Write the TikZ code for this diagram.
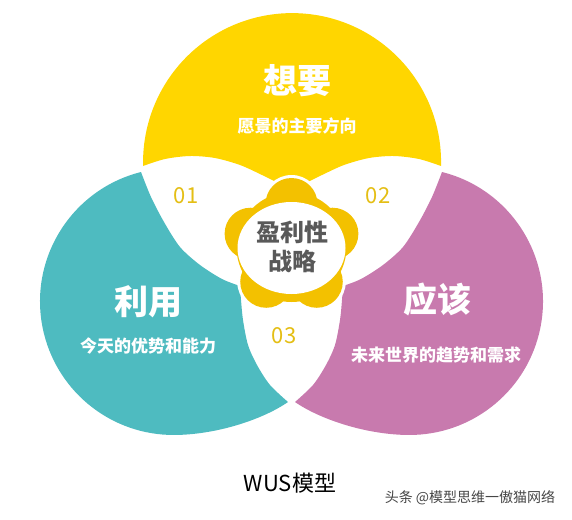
\documentclass[tikz,border=0pt]{standalone}
\usepackage{fontspec}
\setmainfont{Noto Sans CJK SC}
\definecolor{wantyellow}{RGB}{255,214,0}
\definecolor{useteal}{RGB}{78,187,192}
\definecolor{shouldpink}{RGB}{200,122,174}
\definecolor{flowergold}{RGB}{243,193,0}
\definecolor{numgold}{RGB}{228,190,20}
\definecolor{coregray}{RGB}{89,89,89}

\begin{document}
\begin{tikzpicture}[x=1pt,y=-1pt,heading/.style={text=white,font=\bfseries\fontsize{34}{38}\selectfont},caption/.style={text=white,font=\bfseries\fontsize{17}{20}\selectfont},number/.style={text=numgold,font=\fontsize{22}{24}\selectfont},core/.style={text=coregray,align=center,font=\bfseries\fontsize{24}{29}\selectfont}]
\useasboundingbox (0,0) rectangle (572,519);
\coordinate (fc) at (291.5,247);
% yellow: want
\fill[wantyellow] (441,166) arc[start angle=1.5,end angle=-181.5,radius=149]
  -- plot[smooth] coordinates {(143,166) (165,159) (190,156) (215,158) (240,165) (262,175) (280,184) (292,190) (304,184) (322,175) (344,165) (369,158) (394,156) (419,159) (441,166)}
  -- cycle;
% teal: use
\fill[useteal] (141,172) arc[start angle=-104.1,end angle=-270,radius=133.5]
  .. controls (215,435) and (262,420) .. (288,402)
  -- plot[smooth] coordinates {(288,402) (270,385) (257,365) (248,345) (243,320) (241,300) (240,286)}
  -- plot[smooth] coordinates {(240,286) (222,279) (200,265) (180,247) (164,222) (151,197) (141,172)}
  -- cycle;
% pink: should
\fill[shouldpink] (442,172) arc[start angle=-75.9,end angle=90,radius=133.5]
  .. controls (368,435) and (321,420) .. (295,402)
  -- plot[smooth] coordinates {(295,402) (313,385) (326,365) (335,345) (340,320) (342,300) (343,286)}
  -- plot[smooth] coordinates {(343,286) (361,279) (383,265) (403,247) (419,222) (432,197) (442,172)}
  -- cycle;
% flower
\fill[white] (fc) circle[radius=58];
\foreach \a in {-90,-18,54,126,198}
  \fill[white] (fc) ++(\a:43) circle[radius=29];
\fill[flowergold] (fc) circle[radius=55];
\foreach \a in {-90,-18,54,126,198}
  \fill[flowergold] (fc) ++(\a:43) circle[radius=26];
\fill[white] (291.5,248) ellipse[x radius=54,y radius=46];
\node[core] (core) at (292,247) {盈利性\\战略};
% texts
\node[heading] (want) at (297,81) {想要};
\node[caption] (wantsub) at (297,126) {愿景的主要方向};
\node[heading] (use) at (148,302) {利用};
\node[caption] (usesub) at (148,346) {今天的优势和能力};
\node[heading] (should) at (437,300) {应该};
\node[caption] (shouldsub) at (436,355) {未来世界的趋势和需求};
\node[number] (n01) at (186,196) {01};
\node[number] (n02) at (378,196) {02};
\node[number] (n03) at (284,336) {03};
\node[font=\fontsize{22}{24}\selectfont] (title) at (290,483) {WUS模型};
\node[text={rgb,255:red,70;green,70;blue,70},font=\fontsize{14}{16}\selectfont] (mark) at (470,498) {头条 @模型思维一傲猫网络};
\end{tikzpicture}
\end{document}
